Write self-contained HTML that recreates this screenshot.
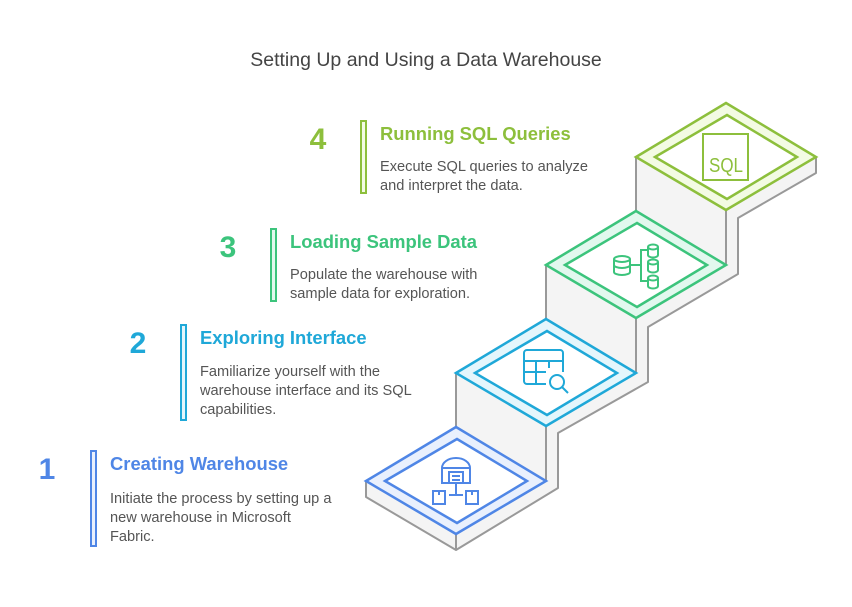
<!DOCTYPE html>
<html><head><meta charset="utf-8"><style>
html,body{margin:0;padding:0;background:#fff;}
svg{display:block;font-family:"Liberation Sans",sans-serif;}
.t{font-weight:bold;font-size:18.4px;}
.d{font-size:14.6px;fill:#555;}
.n{font-weight:bold;font-size:30px;}
</style></head><body>
<svg width="852" height="607" viewBox="0 0 852 607" xmlns="http://www.w3.org/2000/svg">
<rect width="852" height="607" fill="#fff"/>
<text x="426" y="66" text-anchor="middle" font-size="19.5" fill="#444">Setting Up and Using a Data Warehouse</text>

<polygon points="366,481 456,427 456,373 546,319 546,265 636,211 636,157 726,103 816,157 816,173 738,218 738,274 648,327 648,382 558,433 558,488 456,550 366,497" fill="#f4f4f4" stroke="#999" stroke-width="2" stroke-linejoin="round"/>
<g stroke="#999" stroke-width="2">
<line x1="546" y1="426" x2="546" y2="481"/>
<line x1="636" y1="318" x2="636" y2="373"/>
<line x1="726" y1="210" x2="726" y2="265"/>
<line x1="456" y1="534" x2="456" y2="550"/>
</g>

<polygon points="366,481 456,427 546,481 456,534" fill="#e9f0fd" stroke="#4f86e6" stroke-width="2.5"/>
<polygon points="385,481 457,439 527,481 457,523" fill="#fff" stroke="#4f86e6" stroke-width="2.5"/>
<g fill="none" stroke="#4f86e6" stroke-width="2">
<path d="M442,483 V468 A14,10 0 0 1 470,468 V483 Z"/>
<line x1="442" y1="468" x2="470" y2="468"/>
<rect x="449" y="472" width="14" height="11"/>
<line x1="452" y1="476" x2="460" y2="476"/><line x1="452" y1="480" x2="460" y2="480"/>
<line x1="456" y1="483" x2="456" y2="495"/><line x1="449" y1="495" x2="463" y2="495"/>
<rect x="433" y="491" width="12" height="13"/><line x1="439" y1="491" x2="439" y2="495"/>
<rect x="466" y="491" width="12" height="13"/><line x1="472" y1="491" x2="472" y2="495"/>
</g>

<polygon points="456,373 546,319 636,373 546,426" fill="#e4f6fc" stroke="#1fa8d8" stroke-width="2.5"/>
<polygon points="475,373 547,331 617,373 547,415" fill="#fff" stroke="#1fa8d8" stroke-width="2.5"/>
<g fill="none" stroke="#1fa8d8" stroke-width="2">
<path d="M546,384 H527 a3,3 0 0 1 -3,-3 V353 a3,3 0 0 1 3,-3 H560 a3,3 0 0 1 3,3 V372"/>
<line x1="524" y1="361" x2="563" y2="361"/><line x1="524" y1="372" x2="546" y2="372"/>
<line x1="536" y1="361" x2="536" y2="384"/><line x1="549" y1="361" x2="549" y2="368"/>
<circle cx="557" cy="382" r="7"/><line x1="562" y1="387" x2="568" y2="393"/>
</g>

<polygon points="546,265 636,211 726,265 636,318" fill="#e2f8ee" stroke="#3cc47c" stroke-width="2.5"/>
<polygon points="565,265 637,223 707,265 637,307" fill="#fff" stroke="#3cc47c" stroke-width="2.5"/>
<g fill="none" stroke="#3cc47c" stroke-width="2">
<ellipse cx="622" cy="259" rx="8" ry="3"/><path d="M614,259 V272 A8,3 0 0 0 630,272 V259 M614,265 A8,3 0 0 0 630,265"/>
<line x1="630" y1="265" x2="640" y2="265"/>
<path d="M647,250 H641 V281 H647"/>
<ellipse cx="653" cy="247" rx="5" ry="2.5"/><path d="M648,247 V255 A5,2.5 0 0 0 658,255 V247"/>
<ellipse cx="653" cy="262" rx="5" ry="2.5"/><path d="M648,262 V270 A5,2.5 0 0 0 658,270 V262"/>
<ellipse cx="653" cy="278" rx="5" ry="2.5"/><path d="M648,278 V286 A5,2.5 0 0 0 658,286 V278"/>
</g>

<polygon points="636,157 726,103 816,157 726,210" fill="#f3fbe3" stroke="#8dbf3c" stroke-width="2.5"/>
<polygon points="655,157 727,115 797,157 727,199" fill="#fff" stroke="#8dbf3c" stroke-width="2.5"/>
<rect x="703" y="134" width="45" height="46" fill="none" stroke="#8dbf3c" stroke-width="2"/>
<text x="726" y="172" text-anchor="middle" font-size="20" fill="#8dbf3c" textLength="34" lengthAdjust="spacingAndGlyphs">SQL</text>

<text class="n" x="318" y="149" text-anchor="middle" fill="#8dbf3c">4</text>
<rect x="361" y="121" width="5" height="72" fill="#f3fbe3" stroke="#8dbf3c" stroke-width="2"/>
<text class="t" x="380" y="140" fill="#8dbf3c">Running SQL Queries</text>
<text class="d" x="380" y="171">Execute SQL queries to analyze</text>
<text class="d" x="380" y="190">and interpret the data.</text>

<text class="n" x="228" y="257" text-anchor="middle" fill="#3cc47c">3</text>
<rect x="271" y="229" width="5" height="72" fill="#e2f8ee" stroke="#3cc47c" stroke-width="2"/>
<text class="t" x="290" y="248" fill="#3cc47c">Loading Sample Data</text>
<text class="d" x="290" y="279">Populate the warehouse with</text>
<text class="d" x="290" y="298">sample data for exploration.</text>

<text class="n" x="138" y="353" text-anchor="middle" fill="#1fa8d8">2</text>
<rect x="181" y="325" width="5" height="95" fill="#e4f6fc" stroke="#1fa8d8" stroke-width="2"/>
<text class="t" x="200" y="344" fill="#1fa8d8">Exploring Interface</text>
<text class="d" x="200" y="376">Familiarize yourself with the</text>
<text class="d" x="200" y="395">warehouse interface and its SQL</text>
<text class="d" x="200" y="414">capabilities.</text>

<text class="n" x="47" y="479" text-anchor="middle" fill="#4f86e6">1</text>
<rect x="91" y="451" width="5" height="95" fill="#e9f0fd" stroke="#4f86e6" stroke-width="2"/>
<text class="t" x="110" y="470" fill="#4f86e6">Creating Warehouse</text>
<text class="d" x="110" y="503">Initiate the process by setting up a</text>
<text class="d" x="110" y="522">new warehouse in Microsoft</text>
<text class="d" x="110" y="541">Fabric.</text>
</svg>
</body></html>
